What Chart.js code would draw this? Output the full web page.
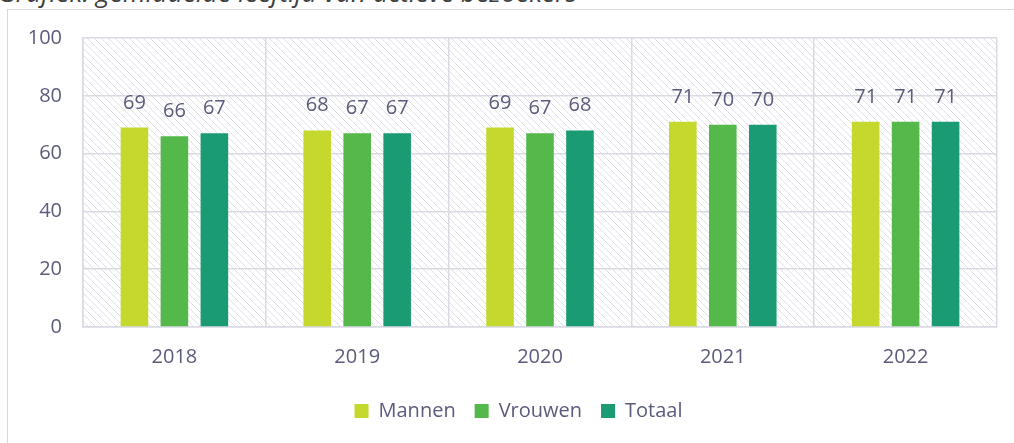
<!DOCTYPE html>
<html>
<head>
<meta charset="utf-8">
<script src="https://cdn.jsdelivr.net/npm/chart.js"></script>
<style>
  body { margin: 0; width: 1014px; height: 443px; overflow: hidden; background: #fff; position: relative; }
  #title { position: absolute; left: -2px; top: -21px; font: italic 26px/26px "Open Sans"; color: #404040; white-space: nowrap; letter-spacing: 0.2px; }
  #frame { position: absolute; left: 7px; top: 9px; width: 1100px; height: 500px; border: 1px solid #d9d9d9; }
  #c { position: absolute; left: 0; top: 0; }
</style>
</head>
<body>
<div id="title">Grafiek: gemiddelde leeftijd van actieve bezoekers</div>
<div id="frame"></div>
<canvas id="c" width="1014" height="443"></canvas>
<script>
// data
var years = ["2018", "2019", "2020", "2021", "2022"];
var mannen = [69, 68, 69, 71, 71];
var vrouwen = [66, 67, 67, 70, 71];
var totaal = [67, 67, 68, 70, 71];

var textColor = "#5b5b7c";
var gridColor = "#dadae3";

// hatched plot background
function hatch() {
    var s = 7;
    var t = document.createElement("canvas");
    t.width = s; t.height = s;
    var g = t.getContext("2d");
    g.strokeStyle = "#dfdfe8";
    g.lineWidth = 1;
    g.beginPath();
    g.moveTo(-1, -1); g.lineTo(s + 1, s + 1);
    g.moveTo(-1, s - 1); g.lineTo(1, s + 1);
    g.moveTo(s - 1, -1); g.lineTo(s + 1, 1);
    g.stroke();
    return g.createPattern(t, "repeat");
}

var bgPlugin = {
    id: "hatchBg",
    beforeDraw: function (chart) {
        var a = chart.chartArea, ctx = chart.ctx;
        ctx.save();
        ctx.fillStyle = hatch();
        ctx.fillRect(a.left, a.top, a.right - a.left, a.bottom - a.top);
        ctx.restore();
    },
    afterLayout: function (chart) {
        chart.legend.left += 20;
        chart.legend.right += 20;
    }
};

var labelPlugin = {
    id: "barLabels",
    afterDatasetsDraw: function (chart) {
        var ctx = chart.ctx;
        ctx.save();
        ctx.font = "20px 'Open Sans'";
        ctx.fillStyle = textColor;
        ctx.textAlign = "center";
        ctx.textBaseline = "alphabetic";
        chart.data.datasets.forEach(function (ds, i) {
            chart.getDatasetMeta(i).data.forEach(function (bar, j) {
                ctx.fillText(ds.data[j], bar.x, bar.y - 19);
            });
        });
        ctx.restore();
    }
};

Chart.defaults.font.family = "'Open Sans'";
Chart.defaults.font.size = 20;
Chart.defaults.color = textColor;

new Chart(document.getElementById("c"), {
    type: 'bar',
    data: {
        labels: years,
        datasets: [
            { label: "Mannen", data: mannen, backgroundColor: "#c4d82e" },
            { label: "Vrouwen", data: vrouwen, backgroundColor: "#55b84a" },
            { label: "Totaal", data: totaal, backgroundColor: "#1a9b74" }
        ]
    },
    options: {
        responsive: false,
        animation: false,
        datasets: { bar: { categoryPercentage: 0.656, barPercentage: 0.69 } },
        layout: { padding: { left: 0, right: 17, top: 38, bottom: 12 } },
        plugins: {
            legend: {
                position: 'bottom',
                labels: { boxWidth: 14, boxHeight: 14, padding: 19, color: textColor }
            },
            tooltip: { enabled: false }
        },
        scales: {
            x: {
                grid: { color: gridColor, lineWidth: 1.5, drawTicks: false, offset: true },
                border: { color: gridColor, width: 1.5 },
                ticks: { padding: 18, color: textColor },
                afterFit: function (s) { s.height = 55; }
            },
            y: {
                min: 0, max: 100,
                grid: { color: gridColor, lineWidth: 1.5, drawTicks: false },
                border: { color: gridColor, width: 1.5 },
                ticks: { stepSize: 20, padding: 21, color: textColor },
                afterFit: function (s) { s.width = 83; }
            }
        }
    },
    plugins: [bgPlugin, labelPlugin]
});
</script>
</body>
</html>
